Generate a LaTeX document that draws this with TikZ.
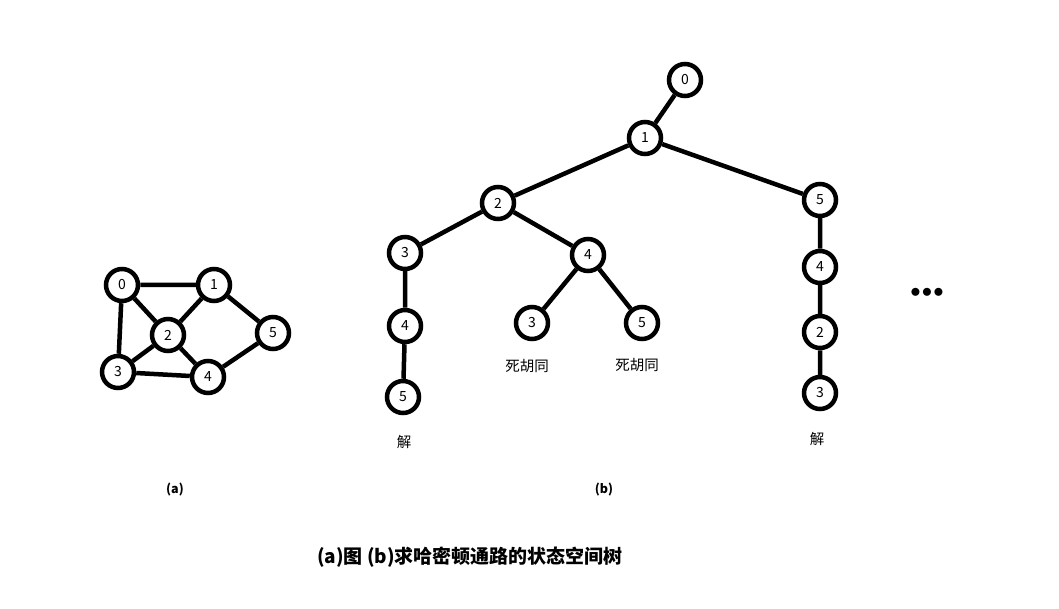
\documentclass[tikz,border=0pt]{standalone}
\usepackage{fontspec}
\setmainfont{Noto Sans CJK SC}
\begin{document}
\begin{tikzpicture}[x=1pt,y=-1pt,
  vtx/.style={circle,draw=black,line width=4.5pt,fill=white,minimum size=32pt,inner sep=0pt,font=\fontsize{14}{14}\selectfont},
  edge/.style={line width=4.5pt},
  lbl/.style={font=\fontsize{14.5}{14.5}\selectfont},
  sub/.style={font=\fontsize{12.5}{12.5}\selectfont\bfseries}]
\useasboundingbox (0,0) rectangle (1059,609);
% graph (a)
\node[vtx] (a0) at (122,285) {0};
\node[vtx] (a1) at (214,285) {1};
\node[vtx] (a2) at (168,335) {2};
\node[vtx] (a3) at (118,372) {3};
\node[vtx] (a4) at (208,377) {4};
\node[vtx] (a5) at (273,333) {5};
\draw[edge] (a0)--(a1) (a0)--(a2) (a0)--(a3) (a1)--(a2) (a1)--(a5) (a2)--(a3) (a2)--(a4) (a3)--(a4) (a4)--(a5);
% tree (b)
\node[vtx] (t0) at (685,80) {0};
\node[vtx] (t1) at (645,138) {1};
\node[vtx] (t2) at (498,203) {2};
\node[vtx] (t5) at (820,200) {5};
\node[vtx] (t23) at (405,253) {3};
\node[vtx] (t24) at (588,255) {4};
\node[vtx] (t234) at (405,326) {4};
\node[vtx] (t2345) at (403,397) {5};
\node[vtx] (t243) at (532,323) {3};
\node[vtx] (t245) at (642,323) {5};
\node[vtx] (t54) at (820,267) {4};
\node[vtx] (t542) at (820,332) {2};
\node[vtx] (t5423) at (820,393) {3};
\draw[edge] (t0)--(t1) (t1)--(t2) (t1)--(t5) (t2)--(t23) (t2)--(t24)
  (t23)--(t234) (t234)--(t2345) (t24)--(t243) (t24)--(t245)
  (t5)--(t54) (t54)--(t542) (t542)--(t5423);
\node[lbl] (d1) at (527,366) {死胡同};
\node[lbl] (d2) at (637,365) {死胡同};
\node[lbl] (s1) at (404,442) {解};
\node[lbl] (s2) at (817,439) {解};
\node (dots) at (927,293) {\fontsize{22}{22}\selectfont\bfseries $\bullet\!\bullet\!\bullet$};
\node[sub] (la) at (175,490) {(a)};
\node[sub] (lb) at (604,490) {(b)};
\node[font=\fontsize{19}{19}\selectfont\bfseries] (cap) at (470,557) {(a)图 (b)求哈密顿通路的状态空间树};
\end{tikzpicture}
\end{document}
